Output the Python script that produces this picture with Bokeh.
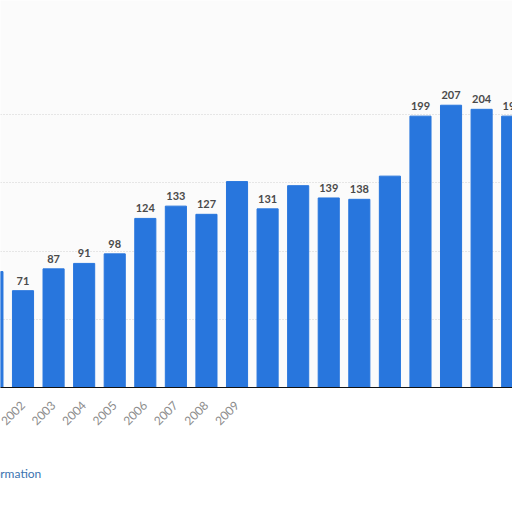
import math
from bokeh.plotting import figure
from bokeh.models import ColumnDataSource, FixedTicker, Range1d, Title
from bokeh.core.properties import value
from bokeh.embed import file_html
from bokeh.resources import INLINE

years = [2001, 2002, 2003, 2004, 2005, 2006, 2007, 2008, 2009,
         2010, 2011, 2012, 2013, 2014, 2015, 2016, 2017, 2018]
values = [85, 71, 87, 91, 98, 124, 133, 127, 151,
          131, 148, 139, 138, 155, 199, 207, 204, 199]
labels = ["", "71", "87", "91", "98", "124", "133", "127", "",
          "131", "", "139", "138", "", "199", "207", "204", "199"]
tick_years = [2002, 2003, 2004, 2005, 2006, 2007, 2008, 2009]
y_ticks = [0, 50, 100, 150, 200]

src = ColumnDataSource(dict(x=years, top=values, label=labels))

p = figure(width=512, height=512, output_backend="svg", toolbar_location=None,
           x_range=Range1d(2001.264, 2018.01), y_range=Range1d(0, 283.8),
           min_border_left=0, min_border_right=0, min_border_top=0,
           min_border_bottom=20)
p.background_fill_color = "#fbfbfb"
p.border_fill_color = "white"
p.outline_line_color = None

p.vbar(x="x", top="top", width=0.69, source=src, color="#2876DD")
p.text(x="x", y="top", text="label", source=src, text_align="center",
       text_baseline="bottom", y_offset=-6, text_font=value("Lato"),
       text_font_style="bold", text_font_size="11px", text_color="#4a4a4a")

p.yaxis.visible = False
p.ygrid.ticker = FixedTicker(ticks=y_ticks)
p.ygrid.grid_line_color = "#d0d0d0"
p.ygrid.grid_line_dash = "1 2"
p.xgrid.visible = False

xa = p.xaxis[0]
xa.ticker = FixedTicker(ticks=tick_years)
xa.major_label_orientation = math.pi / 4
xa.major_label_standoff = 10
xa.major_label_text_color = "#8c8c8c"
xa.major_label_text_font = "Lato"
xa.major_label_text_font_size = "12px"
xa.axis_line_color = "#111111"
xa.axis_line_width = 1
xa.major_tick_line_color = None
xa.minor_tick_line_color = None

info = Title(text="Additional Information", align="left", offset=-78,
             text_color="#3b73b0", text_font="Lato", text_font_size="12px",
             text_font_style="normal", standoff=64)
p.add_layout(info, "below")

open("out.html", "w").write(file_html(p, INLINE))
